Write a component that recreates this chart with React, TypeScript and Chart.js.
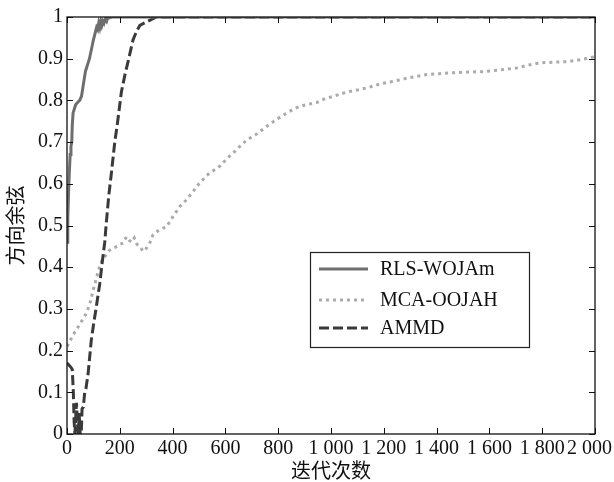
import React, { useEffect, useRef } from 'react';
import { Chart, registerables } from 'chart.js';

Chart.register(...registerables);

// ---- Data ----
const seriesNames = ['RLS-WOJAm', 'MCA-OOJAH', 'AMMD'];

const rlsIter = [0, 3, 6, 9, 12, 15, 18, 20, 23, 28, 33, 40, 48, 55, 60, 65, 70, 75, 80, 85, 90, 95, 100, 104, 108, 112, 116, 120, 124, 128, 132, 136, 140, 145, 150, 155, 160, 170, 2000];
const rlsCos = [0.46, 0.52, 0.58, 0.63, 0.67, 0.69, 0.70, 0.74, 0.77, 0.78, 0.79, 0.795, 0.80, 0.81, 0.83, 0.85, 0.87, 0.88, 0.89, 0.90, 0.915, 0.93, 0.945, 0.955, 0.965, 0.975, 0.97, 0.985, 0.975, 0.99, 0.98, 0.99, 0.985, 0.995, 0.99, 1.0, 0.998, 1.0, 1.0];

const mcaIter = [0, 10, 20, 36, 50, 74, 90, 99, 110, 118, 128, 137, 150, 160, 175, 190, 200, 213, 225, 235, 245, 255, 265, 276, 288, 300, 315, 326, 350, 377, 400, 428, 450, 478, 500, 529, 555, 580, 605, 630, 655, 681, 720, 757, 795, 833, 860, 883, 910, 946, 980, 1010, 1060, 1100, 1136, 1190, 1237, 1300, 1364, 1410, 1452, 1520, 1578, 1640, 1705, 1750, 1794, 1850, 1895, 1950, 2000];
const mcaCos = [0.21, 0.22, 0.235, 0.25, 0.265, 0.29, 0.32, 0.345, 0.37, 0.39, 0.41, 0.422, 0.43, 0.44, 0.446, 0.45, 0.455, 0.458, 0.473, 0.465, 0.46, 0.47, 0.455, 0.45, 0.438, 0.445, 0.46, 0.478, 0.49, 0.497, 0.52, 0.546, 0.56, 0.582, 0.6, 0.62, 0.632, 0.643, 0.66, 0.674, 0.69, 0.705, 0.72, 0.738, 0.755, 0.77, 0.78, 0.786, 0.79, 0.795, 0.805, 0.81, 0.82, 0.825, 0.83, 0.84, 0.846, 0.855, 0.862, 0.864, 0.866, 0.868, 0.869, 0.873, 0.878, 0.885, 0.89, 0.892, 0.893, 0.898, 0.905];

const ammdIter = [0, 8, 15, 20, 24, 27, 30, 33, 36, 40, 43, 46, 50, 54, 57, 62, 67, 72, 80, 92, 100, 111, 124, 135, 143, 148, 158, 168, 181, 190, 198, 206, 219, 232, 250, 263, 276, 307, 339, 2000];
const ammdCos = [0.17, 0.165, 0.16, 0.155, 0.10, 0.03, 0.0, 0.04, 0.075, 0.02, 0.0, 0.05, 0.0, 0.0, 0.06, 0.065, 0.10, 0.11, 0.145, 0.225, 0.26, 0.305, 0.36, 0.42, 0.46, 0.50, 0.57, 0.625, 0.70, 0.74, 0.78, 0.82, 0.86, 0.895, 0.945, 0.965, 0.98, 0.99, 1.0, 1.0];

const xTitle = '迭代次数';
const yTitle = '方向余弦';

const SERIF = '"Liberation Serif", "Times New Roman", serif';
const CJK = '"Noto Sans CJK SC", "Noto Sans CJK JP", sans-serif';
const FS = 20;

const toPoints = (xs: number[], ys: number[]) => xs.map((x, i) => ({ x, y: ys[i] }));

const fmtX = (v: number) => {
  if (v >= 1000) {
    const th = Math.floor(v / 1000);
    const rest = String(Math.round(v % 1000)).padStart(3, '0');
    return `${th} ${rest}`;
  }
  return String(v);
};

const framePlugin = {
  id: 'frameAndLegend',
  afterDatasetsDraw(chart: any) {
    const { ctx, chartArea: a, scales } = chart;
    ctx.save();
    // frame
    ctx.strokeStyle = '#111';
    ctx.lineWidth = 1.3;
    ctx.strokeRect(a.left, a.top, a.right - a.left, a.bottom - a.top);
    const L = 6;
    ctx.lineWidth = 1;
    ctx.beginPath();
    scales.x.ticks.forEach((t: any) => {
      const px = Math.round(scales.x.getPixelForValue(t.value)) + 0.5;
      ctx.moveTo(px, a.bottom);
      ctx.lineTo(px, a.bottom - L);
      ctx.moveTo(px, a.top);
      ctx.lineTo(px, a.top + L);
    });
    scales.y.ticks.forEach((t: any) => {
      const py = Math.round(scales.y.getPixelForValue(t.value)) + 0.5;
      ctx.moveTo(a.left, py);
      ctx.lineTo(a.left + L, py);
      ctx.moveTo(a.right, py);
      ctx.lineTo(a.right - L, py);
    });
    ctx.stroke();

    // x tick labels (kept inside the canvas at the right edge)
    ctx.fillStyle = '#111';
    ctx.font = `${FS}px ${SERIF}`;
    ctx.textBaseline = 'middle';
    ctx.textAlign = 'center';
    const W = chart.width;
    scales.x.ticks.forEach((t: any) => {
      const label = fmtX(t.value);
      const w = ctx.measureText(label).width;
      let cx = scales.x.getPixelForValue(t.value);
      if (cx + w / 2 > W - 2) cx = W - 2 - w / 2;
      ctx.fillText(label, cx, a.bottom + 15);
    });

    // legend box
    const bx = 310, by = 252, bw = 219, bh = 95;
    ctx.fillStyle = '#fff';
    ctx.fillRect(bx, by, bw, bh);
    ctx.strokeStyle = '#222';
    ctx.lineWidth = 1.2;
    ctx.strokeRect(bx + 0.5, by + 0.5, bw, bh);
    const rows = [269, 300, 328];
    chart.data.datasets.forEach((ds: any, i: number) => {
      const y = rows[i];
      ctx.save();
      ctx.strokeStyle = ds.borderColor;
      ctx.lineWidth = ds.borderWidth;
      ctx.setLineDash(ds.borderDash || []);
      ctx.beginPath();
      ctx.moveTo(319, y);
      ctx.lineTo(368, y);
      ctx.stroke();
      ctx.restore();
      ctx.fillStyle = '#111';
      ctx.font = `${FS}px ${SERIF}`;
      ctx.textBaseline = 'middle';
      ctx.textAlign = 'left';
      ctx.fillText(ds.label, 380, y + 1);
    });
    ctx.restore();
  },
};

export default function App() {
  const ref = useRef<HTMLCanvasElement | null>(null);

  useEffect(() => {
    if (!ref.current) return;
    const chart = new Chart(ref.current, {
      type: 'line',
      data: {
        datasets: [
          {
            label: seriesNames[0],
            data: toPoints(rlsIter, rlsCos),
            borderColor: '#6e6e6e',
            borderWidth: 3,
            pointRadius: 0,
            fill: false,
            tension: 0,
            order: 0,
          },
          {
            label: seriesNames[1],
            data: toPoints(mcaIter, mcaCos),
            borderColor: '#ababab',
            borderWidth: 3,
            borderDash: [3, 4],
            pointRadius: 0,
            fill: false,
            tension: 0,
            order: 2,
          },
          {
            label: seriesNames[2],
            data: toPoints(ammdIter, ammdCos),
            borderColor: '#3a3a3a',
            borderWidth: 3,
            borderDash: [10, 4],
            pointRadius: 0,
            fill: false,
            tension: 0,
            order: 1,
          },
        ],
      },
      options: {
        animation: false,
        responsive: true,
        maintainAspectRatio: false,
        layout: { padding: { top: 17, right: 19, left: 0, bottom: 0 } },
        plugins: {
          legend: { display: false },
          tooltip: { enabled: false },
        },
        scales: {
          x: {
            type: 'linear',
            min: 0,
            max: 2000,
            grid: { display: false, drawTicks: false },
            border: { display: false },
            ticks: {
              display: false,
              stepSize: 200,
              autoSkip: false,
              maxRotation: 0,
              callback: (v: any) => fmtX(Number(v)),
            },
            title: {
              display: true,
              text: xTitle,
              color: '#111',
              font: { family: CJK, size: FS },
              padding: { top: 0, bottom: 0 },
            },
            afterFit: (s: any) => {
              s.height = 48;
              s.paddingRight = 0;
              s.paddingLeft = 0;
            },
          },
          y: {
            type: 'linear',
            min: 0,
            max: 1,
            grid: { display: false, drawTicks: false },
            border: { display: false },
            ticks: {
              stepSize: 0.1,
              padding: 4,
              color: '#111',
              font: { family: SERIF, size: FS },
              callback: (v: any) => {
                const n = Number(Number(v).toFixed(1));
                return n === 0 || n === 1 ? String(n) : n.toFixed(1);
              },
            },
            title: {
              display: true,
              text: yTitle,
              color: '#111',
              font: { family: CJK, size: FS },
              padding: { top: 3, bottom: 3 },
            },
            afterFit: (s: any) => {
              s.width = 67;
              s.paddingTop = 0;
              s.paddingBottom = 0;
            },
          },
        },
      },
      plugins: [framePlugin],
    });
    return () => chart.destroy();
  }, []);

  return (
    <div style={{ position: 'fixed', left: 0, top: 0, width: 614, height: 482, background: '#fff' }}>
      <canvas ref={ref} />
    </div>
  );
}
